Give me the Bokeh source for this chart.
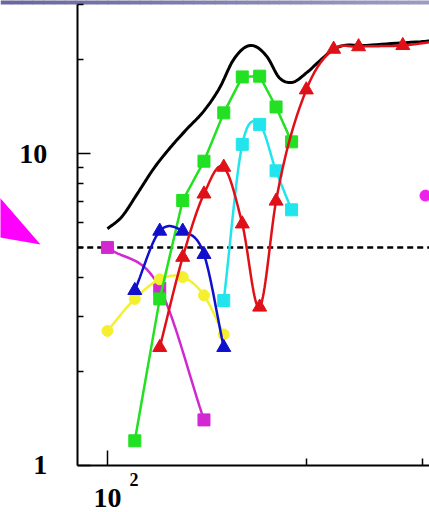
import numpy as np
from bokeh.plotting import figure
from bokeh.models import FixedTicker, Range1d
from bokeh.core.properties import value
from bokeh.embed import file_html
from bokeh.resources import INLINE

# --- series values (x on log scale, y on log scale) ---
mag_x = [100, 120, 140]
mag_y = [5.0, 3.7, 1.4]

yel_x = [100, 110, 120, 130, 140, 150]
yel_y = [2.70, 3.42, 3.95, 4.02, 3.51, 2.63]

blu_x = [110, 120, 130, 140, 150]
blu_y = [3.64, 5.64, 5.64, 4.75, 2.39]

grn_x = [110, 120, 130, 140, 150, 160, 170, 180, 190]
grn_y = [1.20, 3.42, 7.07, 9.45, 13.5, 17.6, 17.7, 14.1, 10.9]

cyn_x = [150, 160, 170, 180, 190]
cyn_y = [3.38, 10.7, 12.4, 8.8, 6.6]

red_x = [120, 130, 140, 150, 160, 170, 180, 200, 220, 240, 280, 320]
red_y = [2.39, 4.65, 7.42, 9.04, 5.95, 3.22, 7.04, 16.0, 21.6, 22.0, 22.2, 23.0]

env_x = [100, 105, 111, 117.5, 124.5, 132, 140, 148, 155, 164.5, 174.5,
         182, 190, 200.5, 210, 221, 247, 303, 320]
env_y = [5.74, 6.25, 7.44, 8.95, 10.45, 12.0, 13.7, 16.3, 19.9, 22.2, 20.4,
         17.5, 16.9, 18.2, 19.9, 21.7, 22.2, 22.9, 23.1]

lone_x = [303]
lone_y = [7.33]

threshold = 5.0

x_ticks = [100]
x_minor = [200, 300]
x_labels = {100: "10"}
x_sup = "2"
y_ticks = [1, 10]
y_minor = [2, 3, 4, 5, 6, 7, 8, 9, 20, 30]
y_labels = {1: "1", 10: "10"}

# axis extents and the visible window around them
AX_X = (90, 307.3)
AX_Y = (1, 30)
VIEW_X = (68.88, 307.3)
VIEW_Y = (0.7068, 30.94)
W, H = 429, 512


def smooth(xs, ys, n=20):
    """Cubic Hermite path through the points, in log-log space, parameterised by x."""
    lx = np.log10(np.asarray(xs, float))
    ly = np.log10(np.asarray(ys, float))
    m = np.gradient(ly, lx)
    t = np.linspace(0, 1, n, endpoint=False)
    h00 = 2 * t**3 - 3 * t**2 + 1
    h10 = t**3 - 2 * t**2 + t
    h01 = -2 * t**3 + 3 * t**2
    h11 = t**3 - t**2
    ox, oy = [], []
    for i in range(len(lx) - 1):
        h = lx[i + 1] - lx[i]
        ox.append(lx[i] + h * t)
        oy.append(h00 * ly[i] + h10 * h * m[i] + h01 * ly[i + 1] + h11 * h * m[i + 1])
    ox.append([lx[-1]])
    oy.append([ly[-1]])
    return 10 ** np.concatenate(ox), 10 ** np.concatenate(oy)


def px_to_x(px):
    lo, hi = np.log10(VIEW_X[0]), np.log10(VIEW_X[1])
    return 10 ** (lo + px / W * (hi - lo))


def py_to_y(py):
    lo, hi = np.log10(VIEW_Y[0]), np.log10(VIEW_Y[1])
    return 10 ** (hi - py / H * (hi - lo))


p = figure(width=W, height=H, x_axis_type="log", y_axis_type="log",
           x_range=Range1d(*VIEW_X), y_range=Range1d(*VIEW_Y),
           output_backend="svg", toolbar_location=None,
           min_border=0)
p.outline_line_color = None
p.grid.visible = False
p.background_fill_color = "white"
p.border_fill_color = "white"

FONT = "Liberation Serif"
for ax in (p.xaxis[0], p.yaxis[0]):
    ax.axis_line_width = 2
    ax.axis_line_color = "black"
    ax.major_tick_line_width = 1.5
    ax.minor_tick_line_width = 1.5
    ax.major_tick_out = 0
    ax.minor_tick_out = 0
    ax.major_label_text_font = FONT
    ax.major_label_text_font_style = "bold"
    ax.major_label_text_font_size = "28px"
    ax.major_label_text_color = "black"

p.xaxis.fixed_location = AX_Y[0]
p.xaxis.bounds = AX_X
p.xaxis.ticker = FixedTicker(ticks=x_ticks, minor_ticks=x_minor)
p.xaxis.major_label_overrides = x_labels
p.xaxis.major_tick_in = 15
p.xaxis.minor_tick_in = 7
p.xaxis.major_label_standoff = 24

p.yaxis.fixed_location = AX_X[0]
p.yaxis.bounds = AX_Y
p.yaxis.ticker = FixedTicker(ticks=y_ticks, minor_ticks=y_minor)
p.yaxis.major_label_overrides = y_labels
p.yaxis.major_tick_in = 13
p.yaxis.minor_tick_in = 6
p.yaxis.major_label_standoff = 30

# threshold
p.line([AX_X[0], AX_X[1]], [threshold, threshold], line_color="black",
       line_width=2.5, line_dash="6 4")

# envelope
ex, ey = smooth(env_x, env_y, 12)
p.line(ex, ey, line_color="black", line_width=3)

# series: (x, y, colour, marker, smooth?)
series = [
    (mag_x, mag_y, "#d228d2", "square", True),
    (yel_x, yel_y, "#f4f030", "circle", True),
    (grn_x, grn_y, "#22e022", "square", False),
    (blu_x, blu_y, "#1010cc", "triangle", True),
    (cyn_x, cyn_y, "#22e4ec", "square", True),
    (red_x, red_y, "#e01018", "triangle", True),
]
for xs, ys, col, mk, sm in series:
    if sm:
        lx, ly = smooth(xs, ys)
    else:
        lx, ly = xs, ys
    p.line(lx, ly, line_color=col, line_width=2.5)
    size = {"square": 12, "circle": 11, "triangle": 14}[mk]
    p.scatter(xs, ys, marker=mk, size=size, fill_color=col, line_color=col)

p.scatter(lone_x, lone_y, marker="circle", size=11, fill_color="#ee22ee",
          line_color="#ee22ee")

# superscript of the x tick label
p.text(x=[x_ticks[0]], y=[AX_Y[0]], text=[x_sup], x_offset=22, y_offset=14,
       text_font=value(FONT), text_font_style="bold", text_font_size="18px",
       text_baseline="alphabetic", text_align="left", text_color="black")

# pointer head on the left margin
p.patch([px_to_x(v) for v in (-6, 40, -6)],
        [py_to_y(v) for v in (191, 244, 236)],
        fill_color="#ff00ff", line_color=None)

# banner strip across the top edge
n_strips = 40
c0 = np.array([0x68, 0x68, 0x9c])
c1 = np.array([0x9c, 0x9c, 0xc2])
edges = np.linspace(0, W, n_strips + 1)
cols = []
for i in range(n_strips):
    f = i / (n_strips - 1)
    r, g, b = (c0 + (c1 - c0) * f).astype(int)
    cols.append(f"#{r:02x}{g:02x}{b:02x}")
p.quad(left=[px_to_x(v) for v in edges[:-1]],
       right=[px_to_x(v + 0.6) for v in edges[1:]],
       top=py_to_y(-1), bottom=py_to_y(4),
       fill_color=cols, line_color=None)

open("out.html", "w").write(file_html(p, INLINE))
